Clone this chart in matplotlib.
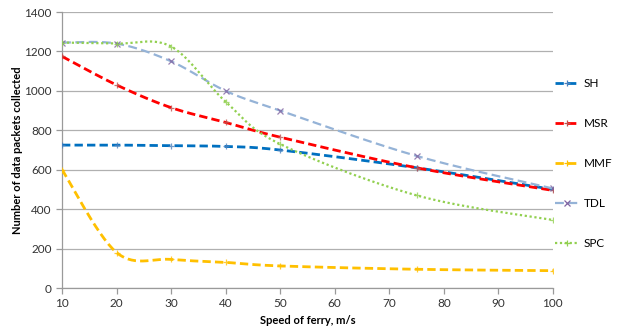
import numpy as np
import matplotlib
matplotlib.use("Agg")
import matplotlib.pyplot as plt

speeds = [10, 20, 30, 40, 50, 75, 100]
sh = [725, 725, 722, 718, 700, 610, 500]
msr = [1175, 1030, 915, 840, 765, 610, 495]
mmf = [600, 180, 145, 130, 112, 95, 88]
tdl = [1245, 1240, 1150, 1000, 900, 670, 505]
spc = [1245, 1240, 1225, 945, 730, 470, 345]
series_names = ["SH", "MSR", "MMF", "TDL", "SPC"]
x_ticks = [10, 20, 30, 40, 50, 60, 70, 80, 90, 100]
y_ticks = [0, 200, 400, 600, 800, 1000, 1200, 1400]

plt.rcParams['font.family'] = ['Lato', 'DejaVu Sans']


def smooth(xs, ys, n=30):
    # Excel-like smoothing: Catmull-Rom cubic Bezier segments
    xs = np.asarray(xs, float)
    ys = np.asarray(ys, float)
    P = np.column_stack([xs, ys])
    out = []
    for i in range(len(P) - 1):
        p0 = P[i - 1] if i > 0 else P[i]
        p1 = P[i]
        p2 = P[i + 1]
        p3 = P[i + 2] if i + 2 < len(P) else P[i + 1]
        c1 = p1 + (p2 - p0) / 6.0
        c2 = p2 - (p3 - p1) / 6.0
        t = np.linspace(0, 1, n)[:, None]
        b = ((1 - t) ** 3) * p1 + 3 * ((1 - t) ** 2) * t * c1 + 3 * (1 - t) * t ** 2 * c2 + t ** 3 * p2
        out.append(b if i == 0 else b[1:])
    out = np.vstack(out)
    return out[:, 0], out[:, 1]


fig = plt.figure(figsize=(6.24, 3.34), dpi=100)
ax = fig.add_axes([0.0994, 0.1377, 0.7866, 0.8263])

styles = [
    (sh, '#0070C0', '#4F81BD', '+', (0, (3, 1.5)), 2.0),
    (msr, '#FF0000', '#C0504D', '+', (0, (3, 1.5)), 2.0),
    (mmf, '#FFC000', '#FFC000', '+', (0, (3, 1.5)), 2.0),
    (tdl, '#95B3D7', '#8064A2', 'x', (0, (4, 2)), 1.6),
    (spc, '#92D050', '#92D050', '+', (0, (1, 1.2)), 1.6),
]
handles = []
for (vals, col, mcol, mk, ls, lw), name in zip(styles, series_names):
    sx, sy = smooth(speeds, vals)
    ax.plot(sx, sy, color=col, lw=lw, linestyle=ls, zorder=3)
    ax.plot(speeds, vals, linestyle='none', marker=mk, color=mcol, ms=5, mew=0.9, zorder=4, alpha=0.8)
    h, = ax.plot([], [], color=col, lw=lw, linestyle=ls, marker=mk, mec=mcol, ms=5, mew=0.9)
    handles.append(h)

ax.set_xlim(10, 100)
ax.set_ylim(0, 1400)
ax.set_xticks(x_ticks)
ax.set_yticks(y_ticks)
ax.yaxis.grid(True, color='#B0B0B0', lw=0.9)
ax.set_axisbelow(True)
for s in ['top', 'right']:
    ax.spines[s].set_visible(False)
for s in ['left', 'bottom']:
    ax.spines[s].set_color('#9A9A9A')
    ax.spines[s].set_linewidth(0.9)
ax.tick_params(axis='both', colors='#9A9A9A', length=4, width=0.9, labelsize=8.5, labelcolor='#333333')
ax.set_xlabel('Speed of ferry, m/s', fontsize=8, fontweight='bold', labelpad=4)
ax.set_ylabel('Number of data packets collected', fontsize=8, fontweight='bold')
ax.yaxis.set_label_coords(-0.079, 0.5)

fig.legend(handles, series_names, loc='upper left', bbox_to_anchor=(0.89, 0.765),
           frameon=False, fontsize=8.5, handlelength=2.0, handletextpad=0.4,
           labelspacing=2.45, borderaxespad=0, borderpad=0)

fig.savefig('out.png', dpi=100)
